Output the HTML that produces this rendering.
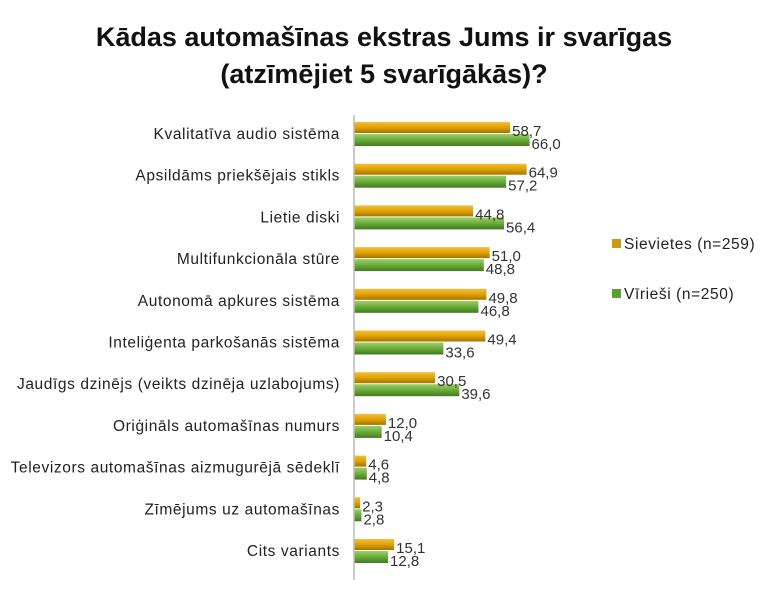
<!DOCTYPE html>
<html><head><meta charset="utf-8"><style>
body{margin:0;background:#fff;}
svg text{font-family:"Liberation Sans",sans-serif;}
</style></head><body>
<svg width="768" height="590" viewBox="0 0 768 590">
<text x="384" y="46" text-anchor="middle" font-size="27" font-weight="bold" fill="#111">Kādas automašīnas ekstras Jums ir svarīgas</text>
<text x="384" y="83" text-anchor="middle" font-size="27" font-weight="bold" fill="#111">(atzīmējiet 5 svarīgākās)?</text>
<defs>
<linearGradient id="go" x1="0" y1="0" x2="0" y2="1"><stop offset="0" stop-color="#f2c040"/><stop offset="0.5" stop-color="#e0a200"/><stop offset="1" stop-color="#a57300"/></linearGradient>
<linearGradient id="gg" x1="0" y1="0" x2="0" y2="1"><stop offset="0" stop-color="#9fd06a"/><stop offset="0.5" stop-color="#6aab3a"/><stop offset="1" stop-color="#427a1f"/></linearGradient>
</defs>
<g id="plot"></g>
<line x1="354" y1="115" x2="354" y2="580" stroke="#bbb" stroke-width="1.5"/>
<g>
<rect x="612" y="239" width="9" height="9" fill="#c89a10"/>
<text x="624" y="249" font-size="15.5" letter-spacing="0.6" fill="#222">Sievietes (n=259)</text>
<rect x="612" y="289" width="9" height="9" fill="#5f9e35"/>
<text x="624" y="299" font-size="15.5" letter-spacing="0.6" fill="#222">Vīrieši (n=250)</text>
</g>
</svg>
<script>
const categories=["Kvalitatīva audio sistēma","Apsildāms priekšējais stikls","Lietie diski","Multifunkcionāla stūre","Autonomā apkures sistēma","Inteliģenta parkošanās sistēma","Jaudīgs dzinējs (veikts dzinēja uzlabojums)","Oriģināls automašīnas numurs","Televizors automašīnas aizmugurējā sēdeklī","Zīmējums uz automašīnas","Cits variants"];
const women=[58.7,64.9,44.8,51.0,49.8,49.4,30.5,12.0,4.6,2.3,15.1];
const men=[66.0,57.2,56.4,48.8,46.8,33.6,39.6,10.4,4.8,2.8,12.8];
const x0=354,k=2.66,y0=134,step=41.7;
const xs=v=>x0+v*k, ys=i=>y0+i*step;
const g=document.getElementById('plot');
const NS='http://www.w3.org/2000/svg';
function mk(t,a){const e=document.createElementNS(NS,t);for(const n in a)e.setAttribute(n,a[n]);g.appendChild(e);return e;}
const fmt=v=>v.toFixed(1).replace('.',',');
categories.forEach((c,i)=>{
 const cy=ys(i);
 const l=mk('text',{x:340,y:cy+5,'text-anchor':'end','font-size':15.5,'letter-spacing':0.6,fill:'#222'});l.textContent=c;
 
 
 const b1=mk('rect',{x:x0,y:cy-12,width:xs(women[i])-x0,height:11,fill:'url(#go)'});
 
 
 const b2=mk('rect',{x:x0,y:cy,width:xs(men[i])-x0,height:12,fill:'url(#gg)'});
 
 
 const t1=mk('text',{x:xs(women[i])+2,y:cy+2,'font-size':15,fill:'#333'});t1.textContent=fmt(women[i]);
 
 
 const t2=mk('text',{x:xs(men[i])+2,y:cy+15,'font-size':15,fill:'#333'});t2.textContent=fmt(men[i]);
 
 
});
</script>
</body></html>
